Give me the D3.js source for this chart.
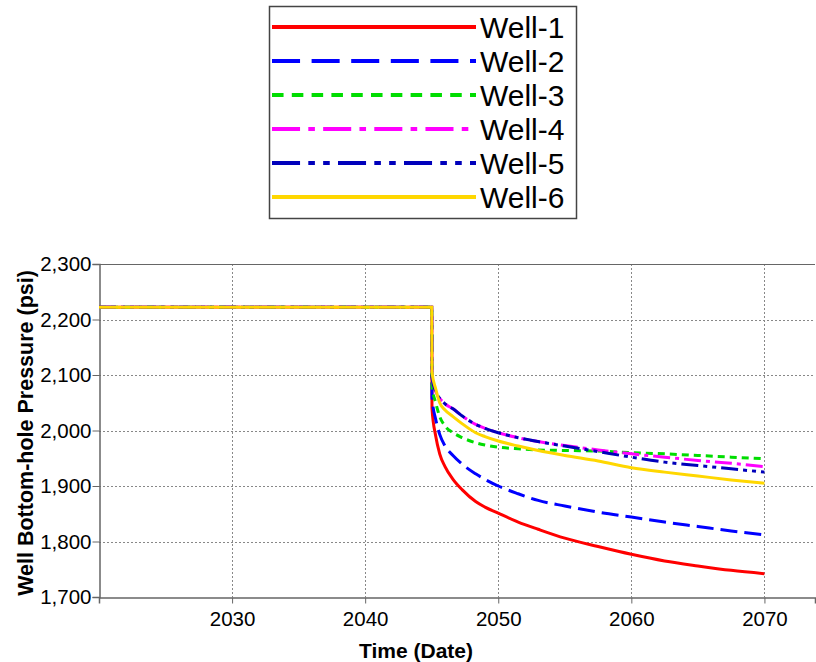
<!DOCTYPE html>
<html>
<head>
<meta charset="utf-8">
<script src="https://cdn.jsdelivr.net/npm/d3@7"></script>
<style>
  html, body { margin: 0; padding: 0; background: #fff; }
  svg { display: block; font-family: "Liberation Sans", Arial, sans-serif; }
</style>
</head>
<body>
<svg id="chart" width="816" height="662"></svg>
<script>
// Time axis (decimal years) shared by every well
const years = [2020, 2045, 2045.02, 2045.3, 2045.6, 2046, 2046.6, 2047.3, 2048.3, 2049, 2050,
               2051.5, 2053, 2055, 2057.5, 2060, 2062.5, 2065, 2067.5, 2070];

// Bottom-hole pressure per well (psi)
const well1 = [2222, 2222, 2040, 1990, 1958, 1935, 1912, 1893, 1872, 1862, 1851,
               1835, 1822, 1806, 1791, 1777, 1765, 1756, 1748, 1742];
const well2 = [2222, 2222, 2060, 2020, 1993, 1972, 1955, 1939, 1922, 1912, 1900,
               1886, 1874, 1864, 1853, 1844, 1835, 1827, 1819, 1812];
const well3 = [2222, 2222, 2080, 2050, 2025, 2008, 1996, 1987, 1978, 1974, 1970,
               1967, 1965, 1964, 1963, 1960, 1958, 1955, 1952, 1949];
const well4 = [2222, 2222, 2095, 2070, 2058, 2048, 2039, 2026, 2011, 2004, 1996,
               1987, 1980, 1973, 1965, 1958, 1952, 1946, 1941, 1935];
const well5 = [2222, 2222, 2095, 2070, 2058, 2048, 2039, 2026, 2011, 2004, 1996,
               1987, 1980, 1972, 1962, 1952, 1943, 1937, 1931, 1925];
const well6 = [2222, 2222, 2105, 2075, 2050, 2037, 2025, 2012, 1996, 1989, 1981,
               1972, 1964, 1955, 1945, 1933, 1925, 1918, 1911, 1905];

const wellNames = ["Well-1", "Well-2", "Well-3", "Well-4", "Well-5", "Well-6"];
const wellValues = [well1, well2, well3, well4, well5, well6];
const wellColors = ["#ff0000", "#0000ff", "#00dd00", "#ff00ff", "#0000bb", "#ffd700"];
// dash patterns in the plot area; the legend uses a stretched version
const wellDashes = [null, [17, 7], [7, 5], [17, 5, 4, 5], [17, 5, 4, 5, 4, 5], null];

const yTicks = [1700, 1800, 1900, 2000, 2100, 2200, 2300];
const xTicks = [2030, 2040, 2050, 2060, 2070];

const svg = d3.select("#chart");
const m = { left: 99, right: 815, top: 264, bottom: 597 };

const x = d3.scaleLinear().domain([2020, 2073.8]).range([m.left, m.right]);
const y = d3.scaleLinear().domain([1700, 2300]).range([m.bottom, m.top]);

const axisColor = "#666";
const fmt = d3.format(",");

// grid
const grid = svg.append("g");
grid.selectAll("line.gy").data(yTicks.filter(t => t > 1700 && t < 2300)).join("line")
  .attr("x1", m.left).attr("x2", m.right)
  .attr("y1", d => Math.round(y(d)) + 0.5).attr("y2", d => Math.round(y(d)) + 0.5)
  .attr("stroke", "#888").attr("stroke-width", 1).attr("stroke-dasharray", "2,2");
grid.selectAll("line.gx").data(xTicks).join("line")
  .attr("x1", d => Math.round(x(d)) + 0.5).attr("x2", d => Math.round(x(d)) + 0.5)
  .attr("y1", m.top).attr("y2", m.bottom)
  .attr("stroke", "#888").attr("stroke-width", 1).attr("stroke-dasharray", "2,2");

// top border
svg.append("line").attr("x1", m.left).attr("x2", m.right)
  .attr("y1", m.top + 0.5).attr("y2", m.top + 0.5)
  .attr("stroke", axisColor).attr("stroke-width", 1);

// axes
const yAxis = d3.axisLeft(y).tickValues(yTicks).tickFormat(fmt).tickSize(7).tickPadding(1);
const gy = svg.append("g").attr("transform", `translate(${m.left + 0.5},0)`).call(yAxis);
const xAxis = d3.axisBottom(x).tickValues(xTicks).tickFormat(d3.format("d")).tickSize(6).tickPadding(8);
const gx = svg.append("g").attr("transform", `translate(0,${m.bottom + 0.5})`).call(xAxis);
[gx, gy].forEach(g => {
  g.selectAll("path.domain").attr("stroke", axisColor).attr("stroke-width", 1.5);
  g.selectAll(".tick line").attr("stroke", axisColor);
  g.selectAll("text").attr("fill", "#000").style("font-size", "20.5px")
    .style("font-family", "'Liberation Sans', Arial, sans-serif");
});

// axis titles
svg.append("text").attr("x", 416).attr("y", 658).attr("text-anchor", "middle")
  .style("font-size", "21px").style("font-weight", "bold").text("Time (Date)");
svg.append("text").attr("transform", "translate(33,433) rotate(-90)").attr("text-anchor", "middle")
  .style("font-size", "21.5px").style("font-weight", "bold").text("Well Bottom-hole Pressure (psi)");

// series
svg.append("clipPath").attr("id", "plotclip").append("rect")
  .attr("x", m.left).attr("y", m.top).attr("width", m.right - m.left).attr("height", m.bottom - m.top);
const line = d3.line().x(d => x(d[0])).y(d => y(d[1])).curve(d3.curveMonotoneX);
const series = svg.append("g").attr("clip-path", "url(#plotclip)");
wellValues.forEach((vals, i) => {
  series.append("path")
    .datum(years.map((t, k) => [t, vals[k]]))
    .attr("d", line)
    .attr("fill", "none")
    .attr("stroke", wellColors[i])
    .attr("stroke-width", 3)
    .attr("stroke-dasharray", wellDashes[i] ? wellDashes[i].join(",") : null);
});

// legend
const lg = svg.append("g");
lg.append("rect").attr("x", 269.5).attr("y", 6.5).attr("width", 307).attr("height", 212)
  .attr("fill", "#fff").attr("stroke", "#444").attr("stroke-width", 1.5);
wellNames.forEach((name, i) => {
  const cy = 27 + i * 34;
  lg.append("line").attr("x1", 272).attr("x2", 476).attr("y1", cy).attr("y2", cy)
    .attr("stroke", wellColors[i]).attr("stroke-width", 4)
    .attr("stroke-dasharray", wellDashes[i] ? wellDashes[i].map(v => v * 1.65).join(",") : null);
  lg.append("text").attr("x", 480).attr("y", cy + 11).style("font-size", "30px").text(name);
});
</script>
</body>
</html>
